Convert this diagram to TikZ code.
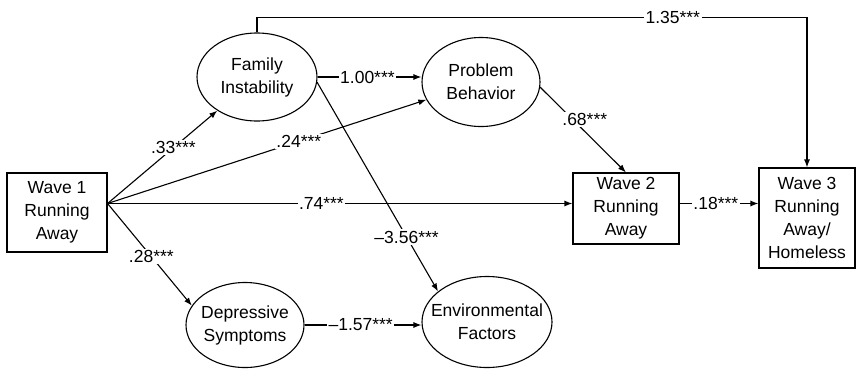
\documentclass[tikz,border=0pt]{standalone}
\usepackage{fontspec}
\setmainfont{Liberation Sans}
\usetikzlibrary{shapes.geometric,arrows.meta}

\begin{document}
\begin{tikzpicture}[x=1pt,y=-1pt,line width=1.1pt,
        font=\fontsize{17.5}{23}\selectfont,
        wave/.style={draw, rectangle, align=center, inner sep=0pt},
        factor/.style={draw, ellipse, inner sep=0pt, label={[align=center]center:#1}},
        coef/.style={fill=white, inner sep=1.5pt},
        arr/.style={-{Latex[length=8pt,width=6pt]}}]
    \useasboundingbox (0,0) rectangle (856,370);
		\node[wave, minimum width=100pt, minimum height=79pt] (w1) at (57,212.5) {Wave 1\\Running\\Away};
		\node[wave, minimum width=106pt, minimum height=71pt] (w2) at (626,208.5) {Wave 2\\Running\\Away};
		\node[wave, minimum width=96pt, minimum height=100pt] (w3) at (807,218) {Wave 3\\Running\\Away/\\Homeless};
        \node[factor={Family\\Instability}, minimum width=120pt, minimum height=88pt] (fam) at (257,77) {};
        \node[factor={Problem\\Behavior}, minimum width=118pt, minimum height=89pt] (prob) at (481,82) {};
        \node[factor={Depressive\\Symptoms}, minimum width=118pt, minimum height=85pt] (dep) at (245,325) {};
        \node[factor={Environmental\\Factors}, minimum width=130pt, minimum height=91pt] (env) at (487,322) {};
		\coordinate (w1out) at ([yshift=9pt]w1.east);
        \draw[arr] (w1out) -- node[coef, pos=0.6] {.33***} (fam);
        \draw[arr] (w1out) -- node[coef, pos=0.6] {.24***} (prob);
        \draw[arr] (w1out) -- node[coef, pos=0.46] {.74***} (w1out -| w2.west);
        \draw[arr] (w1out) -- node[coef, pos=0.52] {.28***} (dep.160);
        \draw[arr] (fam.east) -- node[coef, pos=0.48] {1.00***} (fam.east -| prob.west);
        \draw[arr] (fam.-5) -- node[coef, pos=0.74] {--3.56***} (env.148);
        \draw[arr] (prob.-5) -- node[coef, pos=0.38, xshift=12pt] {.68***} (w2.north);
        \draw[arr] (w1out -| w2.east) -- node[coef, pos=0.46] {.18***} (w1out -| w3.west);
        \draw[arr] (dep.east) -- node[coef, pos=0.48] {--1.57***} (dep.east -| env.west);
        \draw[arr] (fam.north) -- ++(0,-15) -| node[coef, pos=0.378] {1.35***} (w3.north);
\end{tikzpicture}
\end{document}
